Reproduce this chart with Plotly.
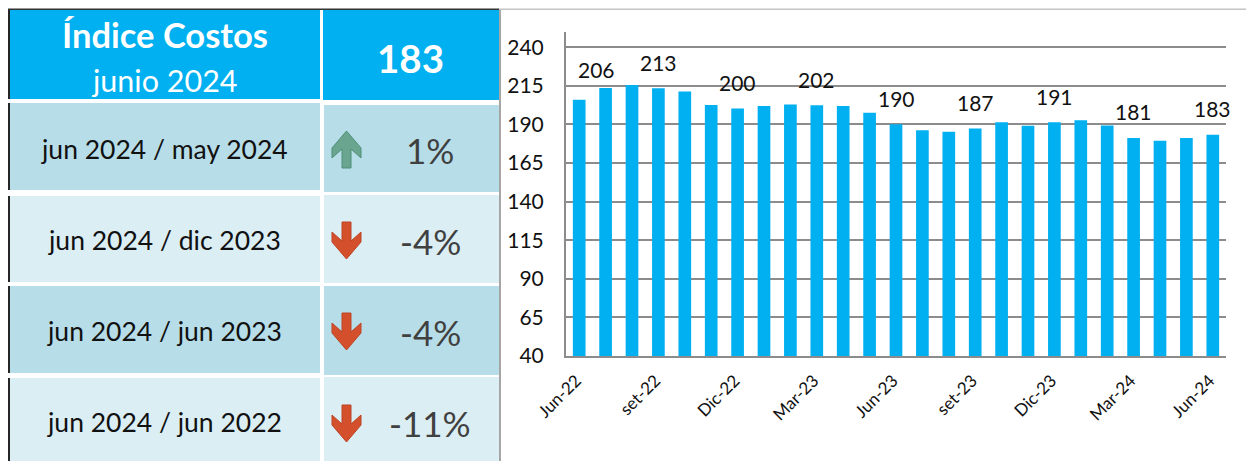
import plotly.graph_objects as go

months = ["Jun-22","jul-22","ago-22","set-22","oct-22","nov-22","Dic-22","ene-23","feb-23","Mar-23","abr-23","may-23",
          "Jun-23","jul-23","ago-23","set-23","oct-23","nov-23","Dic-23","ene-24","feb-24","Mar-24","abr-24","may-24","Jun-24"]
index_values = [206,213.6,215.5,213.4,211.4,202.6,200.4,201.9,203,202.4,201.9,197.6,
                190.2,186.3,185.2,187.4,191.5,189.1,191.4,192.8,189.4,181.3,179.4,181.3,183.4]
tick_months = months[::3]
y_ticks = [40,65,90,115,140,165,190,215,240]
labelled_months = tick_months
labelled_texts = ["206","213","200","202","190","187","191","181","183"]

title_main = "Índice Costos"
title_sub = "junio 2024"
headline = "183"
row_labels = ["jun 2024 / may 2024","jun 2024 / dic 2023","jun 2024 / jun 2023","jun 2024 / jun 2022"]
row_changes = ["1%","-4%","-4%","-11%"]

W, H = 1246, 461
BLUE = "#00b0f0"; DARK = "#b7dde8"; LIGHT = "#dbeef4"
FONT = "Lato"

def px(x): return x / W
def py(y): return 1 - y / H

shapes, annots = [], []

def rect(x0, y0, x1, y1, color):
    shapes.append(dict(type="rect", xref="paper", yref="paper", x0=px(x0), x1=px(x1), y0=py(y0), y1=py(y1),
                       fillcolor=color, line_width=0, layer="below"))

def text(x, y, s, size, color, bold=False):
    annots.append(dict(xref="paper", yref="paper", x=px(x), y=py(y), text=f"<b>{s}</b>" if bold else s, showarrow=False,
                       xanchor="center", yanchor="middle", font=dict(family=FONT, size=size, color=color)))

def arrow(top, up):
    # icon outline, in pixels from the icon's top-left corner (pointing down)
    pts = [(11,0),(20,0),(20,19),(30,10),(30,20),(15.5,37),(1,20),(1,10),(11,19)]
    if up:
        pts = [(x, 37 - y) for x, y in pts]
    d = "M " + " L ".join(f"{px(331 + x):.5f},{py(top + y):.5f}" for x, y in pts) + " Z"
    fill, edge = ("#6aa58f", "#4f8f78") if up else ("#d4502d", "#bd4526")
    shapes.append(dict(type="path", xref="paper", yref="paper", path=d, fillcolor=fill,
                       line=dict(color=edge, width=1), layer="above"))

# header cells
rect(9, 10, 320, 99, BLUE)
rect(323, 10, 499, 100, BLUE)
rect(8, 9, 10, 99, "#262626")
text(165, 35, title_main, 34.5, "white", True)
text(165, 80, title_sub, 30.5, "white")
text(410, 58, headline, 38.5, "white", True)

# comparison rows
row_left = [(103,190),(196,282),(286,373),(378,461)]
row_right = [(105,192),(195,283),(286,375),(377,461)]
row_fill = [DARK, LIGHT, DARK, LIGHT]
row_text_y = [149,240,331,422]
arrow_top = [131,222,313,405]
for i, lab in enumerate(row_labels):
    rect(9, row_left[i][0], 320, row_left[i][1], row_fill[i])
    rect(324, row_right[i][0], 499, row_right[i][1], row_fill[i])
    rect(8, row_left[i][0], 10, row_left[i][1], "#262626")
    text(165, row_text_y[i], lab, 26.5, "#111111")
    text(430, row_text_y[i] + 1, row_changes[i], 35, "#404040")
    arrow(arrow_top[i], row_changes[i].startswith("-") is False)

# frame lines
rect(8, 8.5, 499, 10, "#333333")
rect(499, 8.5, 1246, 10, "#c4c4c4")
rect(499, 10, 501, 461, "#a6a6a6")

# data labels
for m, t in zip(labelled_months, labelled_texts):
    first = m == labelled_months[0]
    annots.append(dict(x=m, y=index_values[months.index(m)], xref="x", yref="y", text=t, showarrow=False,
                       xanchor="center", yanchor="middle", xshift=17 if first else 0, yshift=30 if first else 26,
                       font=dict(family=FONT, size=21, color="#111111")))

fig = go.Figure(go.Bar(x=months, y=index_values, marker=dict(color=BLUE, line_width=0), width=0.48,
                       hoverinfo="x+y"))
fig.update_layout(
    width=W, height=H, margin=dict(l=0, r=0, t=0, b=0), autosize=False,
    paper_bgcolor="white", plot_bgcolor="white", showlegend=False,
    shapes=shapes, annotations=annots,
    xaxis=dict(domain=[px(566), px(1226)], type="category", categoryorder="array", categoryarray=months,
               tickmode="array", tickvals=tick_months, ticktext=tick_months, tickangle=-45,
               tickfont=dict(family=FONT, size=17, color="#111111"), showgrid=False, ticks="",
               showline=True, linecolor="#8c8c8c", linewidth=2, automargin=False, anchor="y",
               range=[-0.5, len(months) - 0.5], ticklabelstandoff=6, ticklabelshift=-3),
    yaxis=dict(domain=[py(356), py(32)], range=[40, 249.9], tickmode="array", tickvals=y_ticks,
               tickfont=dict(family=FONT, size=21, color="#111111"), showgrid=True, gridcolor="#8c8c8c", gridwidth=2,
               showline=True, linecolor="#8c8c8c", linewidth=2, ticks="", zeroline=False, automargin=False,
               anchor="x", ticklabelstandoff=16),
)
fig.write_html("out.html", config={"displayModeBar": False},
               post_script="document.body.style.margin='0';document.body.style.overflow='hidden';")
